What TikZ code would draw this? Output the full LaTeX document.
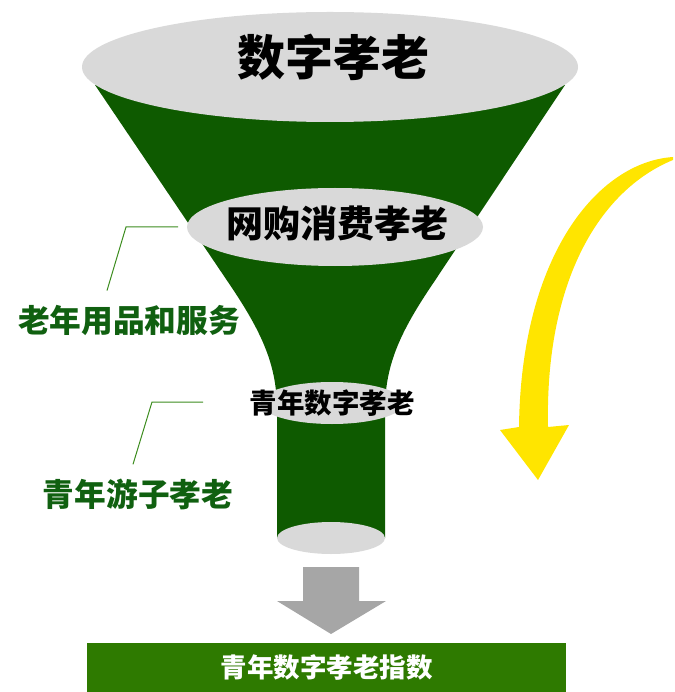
\documentclass[tikz,border=0pt]{standalone}
\usepackage{fontspec}
\newfontfamily\cjk{Noto Sans CJK SC}
\definecolor{funnelgreen}{RGB}{14,90,0}
\definecolor{labelgreen}{RGB}{16,96,16}
\definecolor{linegreen}{RGB}{60,140,30}
\definecolor{bargreen}{RGB}{46,122,0}
\definecolor{lightgray}{RGB}{217,217,217}
\definecolor{arrowgray}{RGB}{166,166,166}
\definecolor{arrowyellow}{RGB}{255,229,0}
\tikzset{
  disk/.style={ellipse, fill=lightgray, draw=none},
  title/.style={font=\cjk\bfseries, inner sep=0pt},
  sidelabel/.style={font=\cjk\bfseries\fontsize{31.7}{34}\selectfont, text=labelgreen, inner sep=0pt},
  leader/.style={draw=linegreen, line width=1pt}
}
\usetikzlibrary{shapes.geometric}
\begin{document}
\begin{tikzpicture}[x=1pt,y=-1pt]
\useasboundingbox (0,0) rectangle (674,692);
% funnel body
\fill[funnelgreen] (95,85) -- (228,282) .. controls (262,332) and (277,365) .. (277,410)
  -- (277,538) -- (385,538) -- (385,410) .. controls (385,365) and (400,332) .. (434,282)
  -- (565,85) -- cycle;
% disks
\fill[lightgray] (331,538) ellipse [x radius=54, y radius=16];
\fill[lightgray] (332,403) ellipse [x radius=72, y radius=21];
\fill[lightgray] (335,227) ellipse [x radius=148, y radius=39];
\fill[lightgray] (330,67) ellipse [x radius=248, y radius=55];
% texts
\node[title, font=\cjk\bfseries\fontsize{48}{50}\selectfont] (t1) at (333,57) {数字孝老};
\node[title, font=\cjk\bfseries\fontsize{37}{40}\selectfont] (t2) at (337,224) {网购消费孝老};
\node[title, font=\cjk\bfseries\fontsize{27.5}{30}\selectfont] (t3) at (332,403) {青年数字孝老};
\node[sidelabel] (l1) at (129,320) {老年用品和服务};
\node[sidelabel] (l2) at (138,494) {青年游子孝老};
% leader lines
\coordinate (a1) at (178,227);
\coordinate (b1) at (126,227);
\coordinate (a2) at (203,402);
\coordinate (b2) at (152,402);
\draw[leader] (a1) -- (b1) -- ([yshift=14pt]l1.north -| 107,0);
\draw[leader] (a2) -- (b2) -- ([yshift=14pt]l2.north -| 133,0);
% gray arrow
\fill[arrowgray] (303,567) -- (359,567) -- (359,601) -- (386,601) -- (331,634) -- (277,601) -- (303,601) -- cycle;
% bottom bar
\node[fill=bargreen, minimum width=479pt, minimum height=49pt, inner sep=0pt,
  font=\cjk\bfseries\fontsize{26.5}{28}\selectfont, text=white] (bar) at (326.5,667.5) {青年数字孝老指数};
% yellow arrow
\fill[arrowyellow] (673,157) .. controls (598,162) and (521,255) .. (519,427)
  -- (500,430) -- (538,480) -- (569,425) -- (548,427)
  .. controls (545,280) and (600,190) .. (673,160) -- cycle;
\end{tikzpicture}
\end{document}
